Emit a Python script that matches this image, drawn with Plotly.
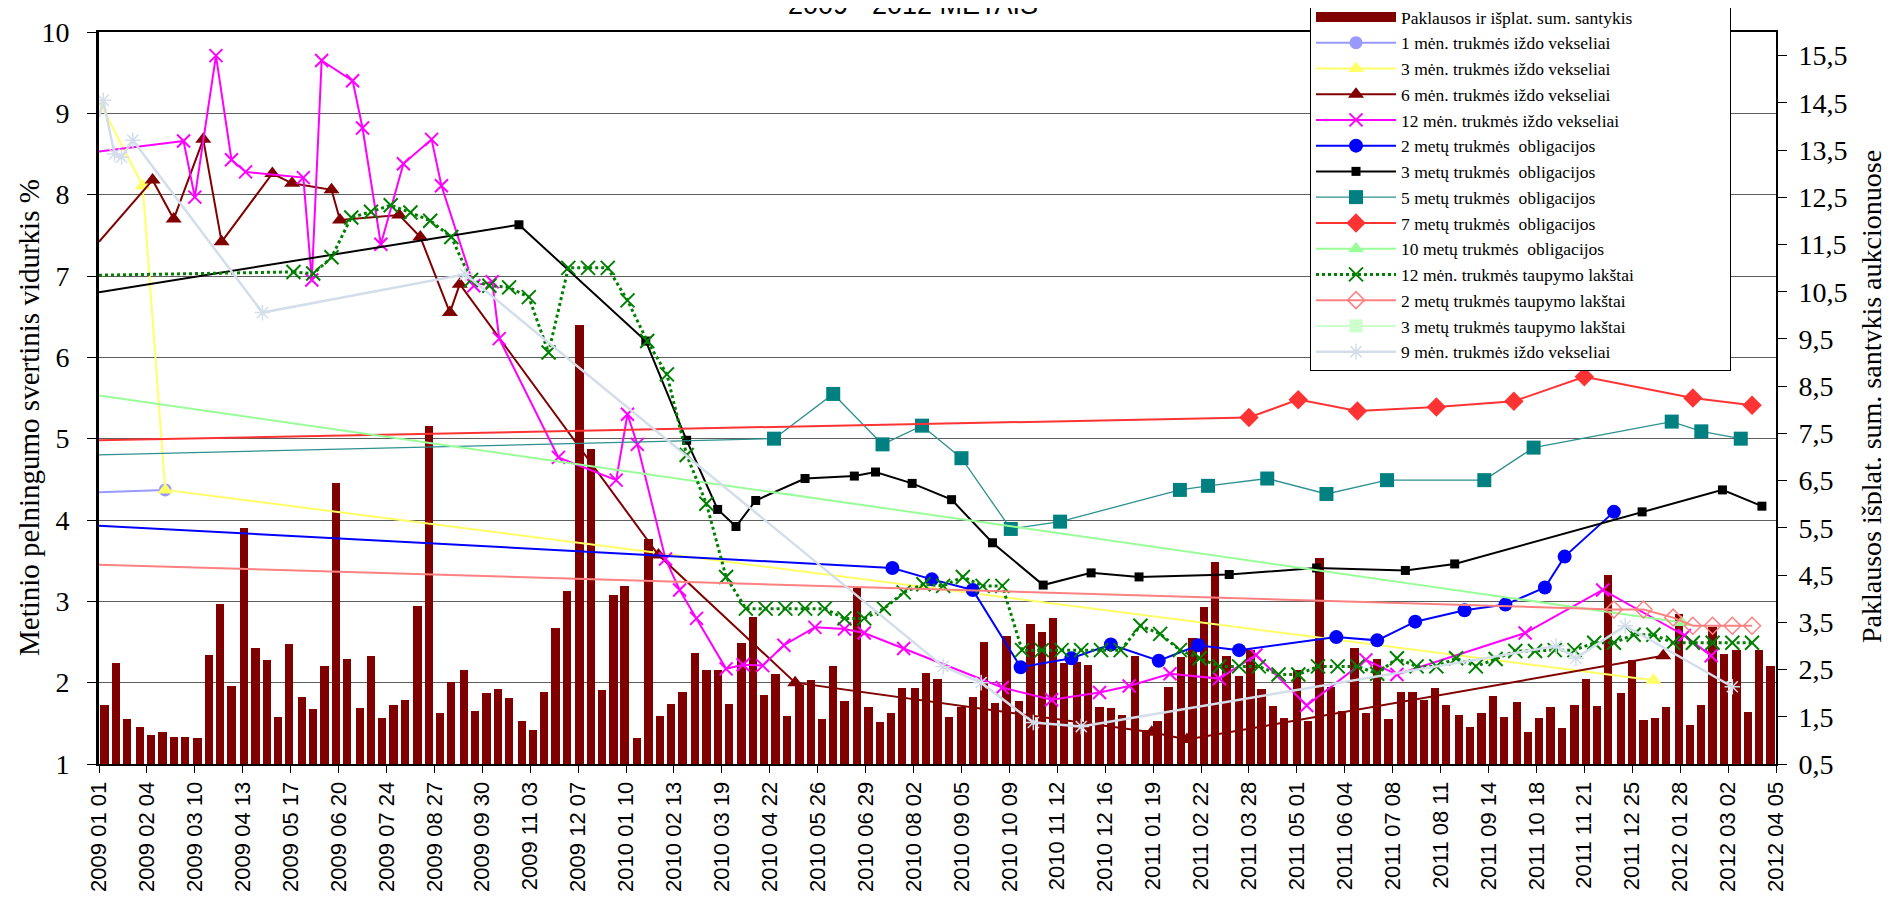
import plotly.graph_objects as go
import pandas as pd

AXIS_START = "2009-01-01"
AXIS_END = "2012-04-05"

# ---- bars: demand / issued ratio (right axis) ----
bar_days = [4, 12, 20, 29, 37, 45, 53, 61, 70, 78,
            86, 94, 103, 111, 119, 127, 135, 144, 152, 160,
            168, 176, 185, 193, 201, 209, 217, 226, 234, 242,
            250, 259, 267, 275, 283, 291, 300, 308, 316, 324,
            332, 341, 349, 357, 365, 373, 382, 390, 398, 406,
            414, 423, 431, 439, 447, 456, 464, 472, 480, 488,
            497, 505, 513, 521, 529, 538, 546, 554, 562, 570,
            579, 587, 595, 603, 612, 620, 628, 636, 644, 653,
            661, 669, 677, 685, 694, 702, 710, 718, 726, 735,
            743, 751, 759, 768, 776, 784, 792, 800, 809, 817,
            825, 833, 841, 850, 858, 866, 874, 882, 891, 899,
            907, 915, 924, 932, 940, 948, 956, 965, 973, 981,
            989, 997, 1006, 1014, 1022, 1030, 1038, 1047, 1055, 1063,
            1071, 1080, 1088, 1096, 1104, 1112, 1121, 1129, 1137, 1145,
            1153, 1162, 1170, 1178, 1186]
bar_vals = [1.74, 2.63, 1.45, 1.29, 1.11, 1.18, 1.07, 1.07, 1.05, 2.80,
            3.89, 2.15, 5.50, 2.96, 2.70, 1.50, 3.04, 1.91, 1.67, 2.57,
            6.44, 2.72, 1.68, 2.78, 1.48, 1.76, 1.85, 3.85, 7.65, 1.57,
            2.23, 2.49, 1.63, 2.00, 2.09, 1.89, 1.41, 1.21, 2.02, 3.38,
            4.17, 9.80, 7.18, 2.06, 4.07, 4.27, 1.05, 5.27, 1.52, 1.77,
            2.02, 2.84, 2.49, 2.49, 1.77, 3.07, 3.62, 1.96, 2.41, 1.52,
            2.18, 2.28, 1.45, 2.57, 1.83, 4.23, 1.70, 1.38, 1.57, 2.10,
            2.10, 2.43, 2.29, 1.50, 1.70, 1.91, 3.09, 1.79, 3.20, 1.84,
            3.46, 3.29, 3.59, 2.63, 2.65, 2.60, 1.70, 1.68, 1.54, 2.79,
            1.23, 1.41, 2.12, 2.76, 3.16, 3.83, 4.78, 2.78, 2.37, 2.91,
            2.09, 1.73, 1.48, 2.48, 1.41, 4.87, 2.12, 1.63, 2.95, 1.57,
            2.72, 1.45, 2.02, 2.02, 1.85, 2.10, 1.74, 1.54, 1.28, 1.59,
            1.94, 1.50, 1.82, 1.18, 1.48, 1.71, 1.27, 1.74, 2.30, 1.73,
            4.50, 2.00, 2.70, 1.43, 1.48, 1.70, 3.67, 1.33, 1.76, 3.40,
            2.82, 2.91, 1.61, 2.91, 2.57]
bar_dates = pd.Timestamp(AXIS_START) + pd.to_timedelta(bar_days, unit="D")

# ---- line series (left axis); *_edge = value where the line enters at the left edge ----
m1_dates = ["2009-02-17"]
m1_vals = [4.37]
m1_edge = 4.34

m3_dates = ["2009-02-01", "2009-02-17", "2012-01-09"]
m3_vals = [8.11, 4.37, 2.03]
m3_edge = 9.15

m6_dates = ["2009-02-08", "2009-02-23", "2009-03-16", "2009-03-29", "2009-05-04", "2009-05-18",
            "2009-06-15", "2009-06-21", "2009-08-02", "2009-08-17", "2009-09-07", "2009-09-14",
            "2010-02-02", "2010-05-10", "2011-01-18", "2011-02-12", "2012-01-16"]
m6_vals = [8.18, 7.70, 8.68, 7.42, 8.26, 8.14, 8.06, 7.69, 7.75, 7.48, 6.55, 6.90,
           3.57, 2.00, 1.39, 1.30, 2.33]
m6_edge = 7.42

m12_dates = ["2009-03-02", "2009-03-10", "2009-03-25", "2009-04-05", "2009-04-15", "2009-05-26",
             "2009-06-01", "2009-06-08", "2009-06-30", "2009-07-07", "2009-07-20", "2009-08-05",
             "2009-08-25", "2009-09-01", "2009-09-24", "2009-10-07", "2009-10-12", "2009-11-23",
             "2010-01-03", "2010-01-11", "2010-01-18", "2010-02-07", "2010-02-17", "2010-03-01",
             "2010-03-22", "2010-04-03", "2010-04-17", "2010-05-02", "2010-05-24", "2010-06-14",
             "2010-06-28", "2010-07-26", "2010-10-04", "2010-11-08", "2010-12-12", "2011-01-02",
             "2011-01-31", "2011-03-07", "2011-04-02", "2011-05-08", "2011-06-19", "2011-07-11",
             "2011-10-10", "2011-12-04", "2012-01-31", "2012-02-19"]
m12_vals = [8.66, 7.97, 9.71, 8.43, 8.28, 8.21, 6.95, 9.65, 9.40, 8.82, 7.39, 8.38,
            8.68, 8.11, 6.88, 6.93, 6.23, 4.77, 4.49, 5.30, 4.93, 3.52, 3.14, 2.79,
            2.17, 2.22, 2.21, 2.46, 2.68, 2.66, 2.61, 2.42, 1.94, 1.79, 1.88, 1.96,
            2.11, 2.05, 2.34, 1.72, 2.28, 2.10, 2.61, 3.14, 2.58, 2.33]
m12_edge = 8.53

y2_dates = ["2010-07-18", "2010-08-15", "2010-09-13", "2010-10-17", "2010-11-22", "2010-12-20",
            "2011-01-23", "2011-02-20", "2011-03-21", "2011-05-29", "2011-06-27", "2011-07-24",
            "2011-08-28", "2011-09-26", "2011-10-24", "2011-11-07", "2011-12-12"]
y2_vals = [3.41, 3.27, 3.14, 2.19, 2.30, 2.47, 2.27, 2.46, 2.40, 2.56, 2.52, 2.75,
           2.89, 2.96, 3.17, 3.55, 4.10]
y2_edge = 3.93

y3_dates = ["2009-10-26", "2010-01-24", "2010-02-22", "2010-03-16", "2010-03-29", "2010-04-12",
            "2010-05-17", "2010-06-21", "2010-07-06", "2010-08-01", "2010-08-29", "2010-09-27",
            "2010-11-02", "2010-12-06", "2011-01-09", "2011-03-14", "2011-05-15", "2011-07-17",
            "2011-08-21", "2012-01-01", "2012-02-27", "2012-03-26"]
y3_vals = [7.63, 6.20, 4.98, 4.13, 3.92, 4.24, 4.51, 4.54, 4.59, 4.45, 4.25, 3.72,
           3.20, 3.35, 3.30, 3.33, 3.41, 3.38, 3.46, 4.10, 4.37, 4.17]
y3_edge = 6.80

y5_dates = ["2010-04-25", "2010-06-06", "2010-07-11", "2010-08-08", "2010-09-05", "2010-10-10",
            "2010-11-14", "2011-02-07", "2011-02-27", "2011-04-10", "2011-05-22", "2011-07-04",
            "2011-09-11", "2011-10-16", "2012-01-22", "2012-02-12", "2012-03-11"]
y5_vals = [5.00, 5.55, 4.93, 5.16, 4.76, 3.89, 3.98, 4.37, 4.42, 4.51, 4.32, 4.49,
           4.49, 4.89, 5.21, 5.09, 5.00]
y5_edge = 4.80

y7_dates = ["2011-03-28", "2011-05-02", "2011-06-13", "2011-08-08", "2011-10-02", "2011-11-21",
            "2012-02-06", "2012-03-19"]
y7_vals = [5.26, 5.48, 5.34, 5.39, 5.46, 5.76, 5.50, 5.41]
y7_edge = 4.98

y10_dates = ["2012-01-29"]
y10_vals = [2.74]
y10_edge = 5.53

s12_dates = ["2009-05-19", "2009-06-02", "2009-06-15", "2009-06-29", "2009-07-13", "2009-07-27",
             "2009-08-10", "2009-08-24", "2009-09-08", "2009-09-22", "2009-10-05", "2009-10-19",
             "2009-11-02", "2009-11-16", "2009-11-30", "2009-12-14", "2009-12-28", "2010-01-11",
             "2010-01-25", "2010-02-08", "2010-02-22", "2010-03-08", "2010-03-22", "2010-04-05",
             "2010-04-19", "2010-05-03", "2010-05-17", "2010-05-31", "2010-06-14", "2010-06-28",
             "2010-07-12", "2010-07-26", "2010-08-09", "2010-08-23", "2010-09-06", "2010-09-20",
             "2010-10-04", "2010-10-18", "2010-11-01", "2010-11-15", "2010-11-29", "2010-12-13",
             "2010-12-27", "2011-01-10", "2011-01-24", "2011-02-07", "2011-02-21", "2011-03-07",
             "2011-03-21", "2011-04-04", "2011-04-18", "2011-05-02", "2011-05-16", "2011-05-30",
             "2011-06-13", "2011-06-27", "2011-07-11", "2011-07-25", "2011-08-08", "2011-08-22",
             "2011-09-05", "2011-09-19", "2011-10-03", "2011-10-17", "2011-10-31", "2011-11-14",
             "2011-11-28", "2011-12-12", "2011-12-26", "2012-01-09", "2012-01-23", "2012-02-06",
             "2012-02-20", "2012-03-05", "2012-03-19"]
s12_vals = [7.05, 7.03, 7.23, 7.72, 7.79, 7.87, 7.78, 7.68, 7.48, 6.95, 6.88, 6.86,
            6.74, 6.06, 7.10, 7.10, 7.10, 6.70, 6.20, 5.79, 4.80, 4.20, 3.30, 2.91,
            2.91, 2.91, 2.91, 2.91, 2.79, 2.79, 2.91, 3.11, 3.21, 3.19, 3.30, 3.19,
            3.19, 2.40, 2.40, 2.40, 2.40, 2.40, 2.40, 2.70, 2.60, 2.40, 2.30, 2.20,
            2.20, 2.20, 2.10, 2.10, 2.20, 2.20, 2.20, 2.11, 2.30, 2.20, 2.20, 2.30,
            2.20, 2.29, 2.39, 2.39, 2.40, 2.40, 2.49, 2.49, 2.59, 2.59, 2.49, 2.49,
            2.49, 2.49, 2.49]
s12_edge = 7.01

s2_dates = ["2011-12-12", "2012-01-02", "2012-01-23", "2012-02-06", "2012-02-20", "2012-03-05",
            "2012-03-19"]
s2_vals = [2.90, 2.90, 2.80, 2.70, 2.70, 2.70, 2.70]
s2_edge = 3.45

# no visible points for this series in the picture (legend entry only)
s3_dates = [None]
s3_vals = [None]

m9_dates = ["2009-01-04", "2009-01-12", "2009-01-17", "2009-01-25", "2009-04-27", "2009-09-18",
            "2010-08-23", "2010-09-19", "2010-10-26", "2010-11-29", "2011-11-01", "2011-11-15",
            "2011-12-20", "2012-03-05"]
m9_vals = [9.16, 8.50, 8.46, 8.67, 6.55, 7.02, 2.20, 2.00, 1.51, 1.46, 2.45, 2.30, 2.70, 1.95]
m9_edge = 8.95

SERIF = "Liberation Serif"
SANS = "Liberation Sans"
BAR_NAME = "Paklausos ir išplat. sum. santykis"
LEGEND_PAD = "\u00a0" * 21   # keeps the legend box as wide as in the original

fig = go.Figure()

fig.add_trace(go.Bar(
    x=bar_dates, y=bar_vals, yaxis="y", name=BAR_NAME, legendgroup="bars",
    showlegend=False,
    marker=dict(color="#800000", line=dict(width=0)),
    width=5.9 * 86400000, hoverinfo="x+y"))
# legend key for the bars drawn as a wide block, like the original
fig.add_trace(go.Scatter(
    x=[None], y=[None], yaxis="y2", mode="lines", name=BAR_NAME + LEGEND_PAD,
    legendgroup="bars", line=dict(color="#800000", width=18), hoverinfo="skip"))


def add_series(label, dates, vals, edge, lcolor, lwidth, symbol, msize,
               mcolor=None, dash=None, mline=None):
    grp = label
    if edge is not None:
        fig.add_trace(go.Scatter(
            x=[AXIS_START, dates[0]], y=[edge, vals[0]], mode="lines", yaxis="y2",
            line=dict(color=lcolor, width=lwidth, dash=dash),
            legendgroup=grp, showlegend=False, hoverinfo="skip"))
    marker = dict(symbol=symbol, size=msize, color=mcolor or lcolor)
    if mline is not None:
        marker["line"] = mline
    fig.add_trace(go.Scatter(
        x=dates, y=vals, mode="lines+markers", yaxis="y2", name=label,
        legendgroup=grp, line=dict(color=lcolor, width=lwidth, dash=dash),
        marker=marker, cliponaxis=True))


add_series("1 mėn. trukmės iždo vekseliai", m1_dates, m1_vals, m1_edge,
           "#9999FF", 2, "circle", 13)
add_series("3 mėn. trukmės iždo vekseliai", m3_dates, m3_vals, m3_edge,
           "#FFFF66", 2, "triangle-up", 14)
add_series("6 mėn. trukmės iždo vekseliai", m6_dates, m6_vals, m6_edge,
           "#800000", 2, "triangle-up", 14)
add_series("12 mėn. trukmės iždo vekseliai", m12_dates, m12_vals, m12_edge,
           "#FF00FF", 2, "x-thin", 13, mline=dict(color="#FF00FF", width=2))
add_series("2 metų trukmės\u00a0 obligacijos", y2_dates, y2_vals, y2_edge,
           "#0000FF", 2, "circle", 14)
add_series("3 metų trukmės\u00a0 obligacijos", y3_dates, y3_vals, y3_edge,
           "#000000", 2, "square", 9)
add_series("5 metų trukmės\u00a0 obligacijos", y5_dates, y5_vals, y5_edge,
           "#2E9090", 1.3, "square", 14, mcolor="#008080")
add_series("7 metų trukmės\u00a0 obligacijos", y7_dates, y7_vals, y7_edge,
           "#FF3333", 2, "diamond", 15)
add_series("10 metų trukmės\u00a0 obligacijos", y10_dates, y10_vals, y10_edge,
           "#99FF99", 2, "triangle-up", 14)
add_series("12 mėn. trukmės taupymo lakštai", s12_dates, s12_vals, s12_edge,
           "#008000", 3, "x-thin", 14, dash="dot", mline=dict(color="#008000", width=2))
add_series("2 metų trukmės taupymo lakštai", s2_dates, s2_vals, s2_edge,
           "#FF8080", 2, "diamond-open", 13, mline=dict(color="#FF8080", width=1.5))
add_series("3 metų trukmės taupymo lakštai", s3_dates, s3_vals, None,
           "#CCFFCC", 2, "square", 13)
add_series("9 mėn. trukmės iždo vekseliai", m9_dates, m9_vals, m9_edge,
           "#D3DEEA", 2.5, "asterisk", 13, mline=dict(color="#D3DEEA", width=1.5))

# The page body adds an 8 px offset, so the figure is sized to the visible window.
OFF = 8
W, H = 1890 - OFF, 902 - OFF
L, T = 99 - OFF, 32 - OFF           # plot area starts at screen (99, 32)
PW, PH = 1677, 732                 # plot area size
R, B = W - L - PW, H - T - PH


def px_x(p):
    """screen pixel x -> paper x"""
    return (p - OFF - L) / PW


def px_y(p):
    """screen pixel y -> paper y"""
    return (T + PH - (p - OFF)) / PH


fig.update_layout(
    width=W, height=H,
    margin=dict(l=L, r=R, t=T, b=B, pad=0, autoexpand=False),
    paper_bgcolor="white", plot_bgcolor="white",
    separators=", ",
    bargap=0,
    showlegend=True,
    font=dict(family=SERIF, color="black"),
    xaxis=dict(
        type="date", range=[AXIS_START, AXIS_END],
        tick0=AXIS_START, dtick=34 * 86400000, tickformat="%Y %m %d",
        tickangle=-90, ticks="outside", ticklen=7, tickwidth=1, tickcolor="black",
        showline=True, linecolor="black", linewidth=2, mirror=True,
        showgrid=False, zeroline=False, automargin=False,
        tickfont=dict(family=SANS, size=22, color="black"),
    ),
    yaxis=dict(
        side="right", range=[0.5, 16], tick0=0.5, dtick=1, tickformat=".1f",
        ticks="outside", ticklen=9, tickcolor="black",
        showline=True, linecolor="black", linewidth=2,
        showgrid=False, zeroline=False, automargin=False,
        ticklabelstandoff=6,
        tickfont=dict(family=SERIF, size=28, color="black"),
    ),
    yaxis2=dict(
        overlaying="y", side="left", range=[1, 10], tick0=1, dtick=1,
        ticks="outside", ticklen=9, tickcolor="black",
        showline=True, linecolor="black", linewidth=3,
        showgrid=True, gridcolor="#5E5E5E", gridwidth=1, zeroline=False,
        ticklabelstandoff=12, automargin=False,
        tickfont=dict(family=SERIF, size=28, color="black"),
    ),
    legend=dict(
        x=px_x(1310), y=px_y(-2), xanchor="left", yanchor="top",
        bgcolor="white", bordercolor="black", borderwidth=1,
        font=dict(family=SERIF, size=17.5, color="black"),
        itemwidth=80, tracegroupgap=0, traceorder="normal",
    ),
    annotations=[
        dict(text="2009 - 2012 METAIS", x=px_x(913), y=px_y(22), xref="paper", yref="paper",
             xanchor="center", yanchor="bottom", showarrow=False,
             font=dict(family=SANS, size=27, color="black")),
        dict(text="Metinio pelningumo svertinis vidurkis %", x=px_x(29), y=px_y(418),
             xref="paper", yref="paper", xanchor="center", yanchor="middle",
             textangle=-90, showarrow=False,
             font=dict(family=SERIF, size=29, color="black")),
        dict(text="Paklausos išplat. sum. santykis aukcionuose", x=px_x(1871), y=px_y(397),
             xref="paper", yref="paper", xanchor="center", yanchor="middle",
             textangle=-90, showarrow=False,
             font=dict(family=SERIF, size=28, color="black")),
    ],
)

fig.write_html("out.html")
